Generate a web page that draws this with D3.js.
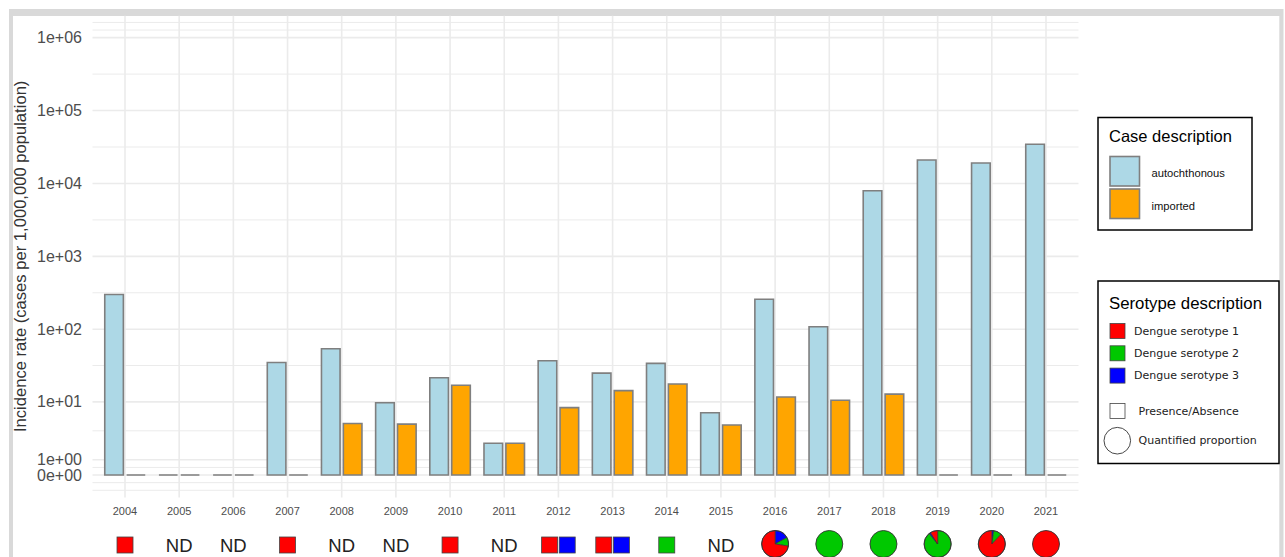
<!DOCTYPE html>
<html>
<head>
<meta charset="utf-8">
<script src="https://cdn.jsdelivr.net/npm/d3@7"></script>
<style>
  html, body { margin: 0; padding: 0; background: #fff; }
  svg { display: block; font-family: "Liberation Sans", Arial, sans-serif; }
</style>
</head>
<body>
<svg id="chart" width="1285" height="557"></svg>
<script>
// ---------------- data ----------------
const years = ["2004","2005","2006","2007","2008","2009","2010","2011","2012","2013","2014","2015","2016","2017","2018","2019","2020","2021"];
const autochthonous = [300, 0, 0, 35, 54, 9.7, 21.6, 2.36, 37, 25, 34, 7.0, 258, 108, 7960, 21000, 19100, 34500];
const imported      = [0, 0, 0, 0, 4.9, 4.8, 17, 2.36, 8.3, 14.3, 17.7, 4.65, 11.7, 10.5, 12.8, 0, 0, 0];
const caseSeries = ["autochthonous", "imported"];
const yTickValues = [0, 1, 10, 100, 1000, 10000, 100000, 1000000];
const yTickLabels = ["0e+00","1e+00","1e+01","1e+02","1e+03","1e+04","1e+05","1e+06"];
const serotypeNames = ["Dengue serotype 1", "Dengue serotype 2", "Dengue serotype 3"];
// serotype row under each year: "ND", presence squares, or a pie of proportions
const serotypeMode = ["presence","ND","ND","presence","ND","ND","presence","ND","presence","presence","presence","ND","pie","pie","pie","pie","pie","pie"];
const serotypePresence = [[1],[],[],[1],[],[],[1],[],[1,3],[1,3],[2],[],[],[],[],[],[],[]];
// pie slices, clockwise from 12 o'clock: [serotype, share]
const serotypePie = [null,null,null,null,null,null,null,null,null,null,null,null,
  [[3,0.17],[2,0.105],[1,0.725]],
  [[2,1]],
  [[2,1]],
  [[2,0.894],[3,0.017],[1,0.089]],
  [[3,0.022],[2,0.10],[1,0.878]],
  [[1,1]]];

// ---------------- styles ----------------
const caseColor = { autochthonous: "#add8e6", imported: "#ffa500" };
const seroColor = { 1: "#ff0000", 2: "#00c800", 3: "#0000ff" };
const gridColor = "#ebebeb";
const dejavu = "'DejaVu Sans', Verdana, sans-serif";

const svg = d3.select("#chart");

// outer frame
svg.append("rect").attr("x", 9).attr("y", 9).attr("width", 1274.5).attr("height", 560).attr("fill", "#d9d9d9");
svg.append("rect").attr("x", 13).attr("y", 16).attr("width", 1266.3).attr("height", 560).attr("fill", "#fff");

// ---------------- scales ----------------
const pseudoLog = v => Math.asinh(v / 2) / Math.LN10;   // pseudo-log (sigma = 1, base 10)
const yLin = d3.scaleLinear().domain([-0.3, 6.3]).range([496.9, 15.8]);
const y = v => yLin(pseudoLog(v));

const x = d3.scalePoint().domain(years).range([92.5, 1078.5]).padding(0.6);
const xInner = d3.scaleBand().domain(caseSeries).range([-20.25, 20.25]).paddingInner(0.15);

const plotLeft = 92.5, plotRight = 1078.5;

// ---------------- grid ----------------
const g = svg.append("g");
const majorT = yTickValues.map(pseudoLog);
const minorT = [];
for (let i = 0; i < majorT.length - 1; i++) minorT.push((majorT[i] + majorT[i + 1]) / 2);
const dT = majorT[1] - majorT[0];
minorT.push(-dT / 2, -dT, majorT[majorT.length - 1] + dT / 2, majorT[majorT.length - 1] + dT);
g.selectAll("line.minor").data(minorT).join("line")
  .attr("x1", plotLeft).attr("x2", plotRight)
  .attr("y1", d => yLin(d)).attr("y2", d => yLin(d))
  .attr("stroke", gridColor).attr("stroke-width", 1);
g.selectAll("line.major").data(yTickValues).join("line")
  .attr("x1", plotLeft).attr("x2", plotRight)
  .attr("y1", d => y(d)).attr("y2", d => y(d))
  .attr("stroke", gridColor).attr("stroke-width", 1.6);
g.selectAll("line.vert").data(years).join("line")
  .attr("x1", d => x(d)).attr("x2", d => x(d))
  .attr("y1", 15.8).attr("y2", 497.5)
  .attr("stroke", gridColor).attr("stroke-width", 1.6);

// ---------------- bars ----------------
const barData = [];
years.forEach((yr, i) => {
  barData.push({ year: yr, series: "autochthonous", value: autochthonous[i] });
  barData.push({ year: yr, series: "imported", value: imported[i] });
});
svg.append("g").selectAll("path").data(barData).join("path")
  .attr("d", d => {
    const x0 = x(d.year) + xInner(d.series);
    const w = xInner.bandwidth();
    const y0 = y(0), y1 = y(d.value);
    return `M${x0},${y0}H${x0 + w}V${y1}H${x0}Z`;
  })
  .attr("fill", d => caseColor[d.series])
  .attr("stroke", "#7f7f7f").attr("stroke-width", 1.6);

// ---------------- axes labels ----------------
svg.append("g").selectAll("text").data(yTickValues).join("text")
  .attr("x", 82).attr("y", d => y(d))
  .attr("text-anchor", "end").attr("dominant-baseline", "central")
  .attr("font-size", 16).attr("fill", "#4d4d4d")
  .text((d, i) => yTickLabels[i]);

svg.append("text")
  .attr("transform", `translate(20,${(15.8 + 496.9) / 2}) rotate(-90)`)
  .attr("text-anchor", "middle").attr("dominant-baseline", "central")
  .attr("font-size", 16.6).attr("fill", "#333")
  .text("Incidence rate (cases per 1,000,000 population)");

svg.append("g").selectAll("text").data(years).join("text")
  .attr("x", d => x(d)).attr("y", 511)
  .attr("text-anchor", "middle").attr("dominant-baseline", "central")
  .attr("font-size", 11).attr("fill", "#4d4d4d")
  .text(d => d);

// ---------------- serotype row ----------------
const rowY = 545;
const sq = 16;
const arc = d3.arc().innerRadius(0).outerRadius(13.5);
const pie = d3.pie().sort(null).value(d => d[1]);
const row = svg.append("g");
years.forEach((yr, i) => {
  const cx = x(yr);
  const mode = serotypeMode[i];
  if (mode === "ND") {
    row.append("text").attr("x", cx).attr("y", rowY)
      .attr("text-anchor", "middle").attr("dominant-baseline", "central")
      .attr("font-size", 18.5).attr("fill", "#222").text("ND");
  } else if (mode === "presence") {
    const list = serotypePresence[i];
    const offs = list.length === 1 ? [0] : [-8.8, 8.8];
    list.forEach((s, k) => {
      row.append("rect")
        .attr("x", cx + offs[k] - sq / 2).attr("y", rowY - sq / 2)
        .attr("width", sq).attr("height", sq)
        .attr("fill", seroColor[s]).attr("stroke", "#444").attr("stroke-width", 0.8);
    });
  } else {
    const pg = row.append("g").attr("transform", `translate(${cx},${rowY - 1})`);
    const slices = serotypePie[i];
    if (slices.length === 1) {
      pg.append("circle").attr("r", 13.5).attr("fill", seroColor[slices[0][0]])
        .attr("stroke", "#333").attr("stroke-width", 0.9);
    } else {
      pg.selectAll("path").data(pie(slices)).join("path")
        .attr("d", arc).attr("fill", d => seroColor[d.data[0]])
        .attr("stroke", "#333").attr("stroke-width", 0.7).attr("stroke-linejoin", "round");
      pg.append("circle").attr("r", 13.5).attr("fill", "none")
        .attr("stroke", "#333").attr("stroke-width", 0.9);
    }
  }
});

// ---------------- legend: case description ----------------
const lg1 = svg.append("g");
lg1.append("rect").attr("x", 1098).attr("y", 117.5).attr("width", 154).attr("height", 112.5)
  .attr("fill", "#fff").attr("stroke", "#000").attr("stroke-width", 1.5);
lg1.append("text").attr("x", 1109).attr("y", 141.5).attr("font-size", 16.5).attr("fill", "#000").text("Case description");
caseSeries.forEach((s, k) => {
  const ky = 156.5 + k * 32.5;
  lg1.append("rect").attr("x", 1110).attr("y", ky).attr("width", 29.5).attr("height", 29.5)
    .attr("fill", caseColor[s]).attr("stroke", "#7f7f7f").attr("stroke-width", 1.6);
  lg1.append("text").attr("x", 1151.5).attr("y", ky + 16.5).attr("dominant-baseline", "central")
    .attr("font-size", 11.2).attr("fill", "#111").text(s);
});

// ---------------- legend: serotype description ----------------
const lg2 = svg.append("g");
lg2.append("rect").attr("x", 1098).attr("y", 281).attr("width", 181).attr("height", 182.5)
  .attr("fill", "#fff").attr("stroke", "#000").attr("stroke-width", 1.5);
lg2.append("text").attr("x", 1109).attr("y", 309).attr("font-size", 16.8).attr("fill", "#000").text("Serotype description");
serotypeNames.forEach((name, k) => {
  const cy = 331 + k * 22.3;
  lg2.append("rect").attr("x", 1110).attr("y", cy - 7.5).attr("width", 15).attr("height", 15)
    .attr("fill", seroColor[k + 1]).attr("stroke", "#444").attr("stroke-width", 0.8);
  lg2.append("text").attr("x", 1134).attr("y", cy).attr("dominant-baseline", "central")
    .style("font-family", dejavu)
    .attr("font-size", 11).attr("fill", "#222").text(name);
});
lg2.append("rect").attr("x", 1110).attr("y", 403.5).attr("width", 15).attr("height", 15)
  .attr("fill", "#fff").attr("stroke", "#444").attr("stroke-width", 0.8);
lg2.append("text").attr("x", 1138.5).attr("y", 411).attr("dominant-baseline", "central")
  .style("font-family", dejavu)
  .attr("font-size", 11).attr("fill", "#222").text("Presence/Absence");
lg2.append("circle").attr("cx", 1117.3).attr("cy", 440.7).attr("r", 13.3)
  .attr("fill", "#fff").attr("stroke", "#333").attr("stroke-width", 0.9);
lg2.append("text").attr("x", 1138.5).attr("y", 440.7).attr("dominant-baseline", "central")
  .style("font-family", dejavu)
  .attr("font-size", 11).attr("fill", "#222").text("Quantified proportion");
</script>
</body>
</html>
